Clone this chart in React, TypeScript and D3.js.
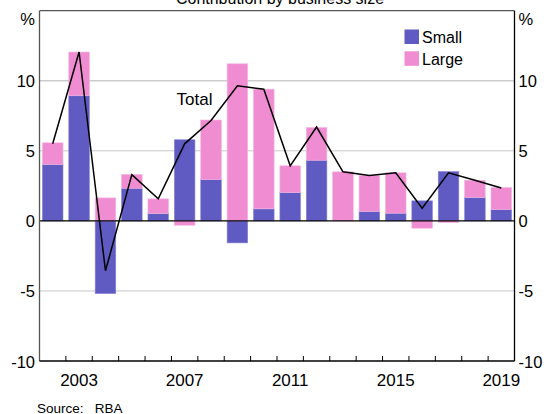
import { useEffect, useRef } from 'react';
import * as d3 from 'd3';

const years = [2002, 2003, 2004, 2005, 2006, 2007, 2008, 2009, 2010, 2011, 2012, 2013, 2014, 2015, 2016, 2017, 2018, 2019];
const small = [4.02, 8.93, -5.19, 2.33, 0.52, 5.79, 2.95, -1.57, 0.86, 2.02, 4.33, 0.0, 0.67, 0.55, 1.43, 3.52, 1.67, 0.81];
const large = [1.55, 3.12, 1.64, 0.98, 1.05, -0.31, 4.25, 11.21, 8.54, 1.91, 2.33, 3.5, 2.57, 2.88, -0.52, -0.12, 1.23, 1.57];
const total = [5.5, 12.05, -3.56, 3.3, 1.57, 5.5, 7.16, 9.64, 9.4, 3.93, 6.7, 3.5, 3.24, 3.43, 0.9, 3.43, 2.9, 2.35];
const yTicks = [-10, -5, 0, 5, 10];
const xLabels = [2003, 2007, 2011, 2015, 2019];

const W = 544;
const H = 414;
const FONT = '"Liberation Sans", Arial, sans-serif';
const SMALL_COL = '#605bc2';
const LARGE_COL = '#f08cd2';

export default function App() {
  const svgRef = useRef<SVGSVGElement>(null);

  useEffect(() => {
    if (!svgRef.current) return;
    const svg = d3.select(svgRef.current);
    svg.selectAll('*').remove();

    const left = 39.5, right = 514.5, top = 10.7, bottom = 361;

    const x = d3.scaleBand<number>()
      .domain(years)
      .range([left, right])
      .paddingInner(0.22)
      .paddingOuter(0.11);
    const step = x.step();

    const y = d3.scaleLinear().domain([-10, 15]).range([bottom, top]);

    // Gridlines
    svg.append('g')
      .selectAll('line')
      .data(yTicks.filter(t => t !== 0 && t !== -10).concat([10]))
      .enter()
      .append('line')
      .attr('x1', left)
      .attr('x2', right)
      .attr('y1', d => y(d))
      .attr('y2', d => y(d))
      .attr('stroke', '#c8c8c8')
      .attr('stroke-width', 1);

    // Stacked bars
    const rows = years.map((yr, i) => ({ year: yr, small: small[i], large: large[i] }));
    const series = d3.stack<typeof rows[0]>()
      .keys(['small', 'large'])
      .offset(d3.stackOffsetDiverging)(rows);
    const colors: Record<string, string> = { small: SMALL_COL, large: LARGE_COL };
    const strokes: Record<string, string> = { small: '#8884d4', large: '#f6b4e2' };

    series.forEach(s => {
      svg.append('g')
        .selectAll('rect')
        .data(s)
        .enter()
        .append('rect')
        .attr('x', d => x(d.data.year)!)
        .attr('width', x.bandwidth())
        .attr('y', d => y(Math.max(d[0], d[1])))
        .attr('height', d => Math.abs(y(d[0]) - y(d[1])))
        .attr('fill', colors[s.key])
        .attr('stroke', strokes[s.key])
        .attr('stroke-width', 0.6);
    });

    // Zero line
    svg.append('line')
      .attr('x1', left).attr('x2', right)
      .attr('y1', y(0)).attr('y2', y(0))
      .attr('stroke', '#000').attr('stroke-width', 1.2);

    // Total line
    const line = d3.line<number>()
      .x((_, i) => x(years[i])! + x.bandwidth() / 2)
      .y(d => y(d));
    svg.append('path')
      .datum(total)
      .attr('fill', 'none')
      .attr('stroke', '#000')
      .attr('stroke-width', 1.5)
      .attr('d', line);

    // Frame
    svg.append('line').attr('x1', left).attr('x2', left).attr('y1', top).attr('y2', bottom)
      .attr('stroke', '#555').attr('stroke-width', 1.3);
    svg.append('line').attr('x1', left).attr('x2', right).attr('y1', top).attr('y2', top)
      .attr('stroke', '#555').attr('stroke-width', 1.3);
    svg.append('line').attr('x1', right).attr('x2', right).attr('y1', top).attr('y2', bottom)
      .attr('stroke', '#000').attr('stroke-width', 1.3);
    svg.append('line').attr('x1', left).attr('x2', right).attr('y1', bottom).attr('y2', bottom)
      .attr('stroke', '#000').attr('stroke-width', 1.3);

    // X ticks at year boundaries
    svg.append('g')
      .selectAll('line')
      .data(years.slice(1))
      .enter()
      .append('line')
      .attr('x1', d => x(d)! - (step - x.bandwidth()) / 2)
      .attr('x2', d => x(d)! - (step - x.bandwidth()) / 2)
      .attr('y1', bottom)
      .attr('y2', bottom - 5)
      .attr('stroke', '#000')
      .attr('stroke-width', 1);

    // X labels
    svg.append('g')
      .selectAll('text')
      .data(xLabels)
      .enter()
      .append('text')
      .attr('x', d => x(d)! + x.bandwidth() / 2)
      .attr('y', 386)
      .attr('text-anchor', 'middle')
      .style('font-family', FONT)
      .style('font-size', '17px')
      .text(d => `${d}`);

    // Y labels both sides
    [{ xp: 35, anchor: 'end' }, { xp: 518.5, anchor: 'start' }].forEach(side => {
      const g = svg.append('g');
      g.selectAll('text')
        .data(yTicks)
        .enter()
        .append('text')
        .attr('x', side.xp)
        .attr('y', d => y(d) + 6.5)
        .attr('text-anchor', side.anchor)
        .style('font-family', FONT)
        .style('font-size', '16.5px')
        .text(d => `${d}`);
      g.append('text')
        .attr('x', side.xp)
        .attr('y', 25)
        .attr('text-anchor', side.anchor)
        .style('font-family', FONT)
        .style('font-size', '16.5px')
        .text('%');
    });

    // Title
    svg.append('text')
      .attr('x', 280)
      .attr('y', 4)
      .attr('text-anchor', 'middle')
      .style('font-family', FONT)
      .style('font-size', '16px')
      .text('Contribution by business size');

    // Total label
    svg.append('text')
      .attr('x', 176.5)
      .attr('y', 104.5)
      .style('font-family', FONT)
      .style('font-size', '17px')
      .text('Total');

    // Legend
    const legendItems = [
      { label: 'Small', color: SMALL_COL },
      { label: 'Large', color: LARGE_COL }
    ];
    legendItems.forEach((item, i) => {
      const row = svg.append('g').attr('transform', `translate(404.5, ${29.5 + i * 21.8})`);
      row.append('rect')
        .attr('width', 14.5)
        .attr('height', 14.5)
        .attr('fill', item.color);
      row.append('text')
        .attr('x', 17.5)
        .attr('y', 13.2)
        .style('font-family', FONT)
        .style('font-size', '16px')
        .text(item.label);
    });

    // Source
    svg.append('text')
      .attr('x', 37)
      .attr('y', 412.5)
      .attr('xml:space', 'preserve')
      .style('white-space', 'pre')
      .style('font-family', FONT)
      .style('font-size', '13.5px')
      .text('Source:   RBA');
  }, []);

  return (
    <svg
      ref={svgRef}
      width={W}
      height={H}
      style={{ position: 'absolute', left: 0, top: 0, background: '#fff' }}
    />
  );
}
